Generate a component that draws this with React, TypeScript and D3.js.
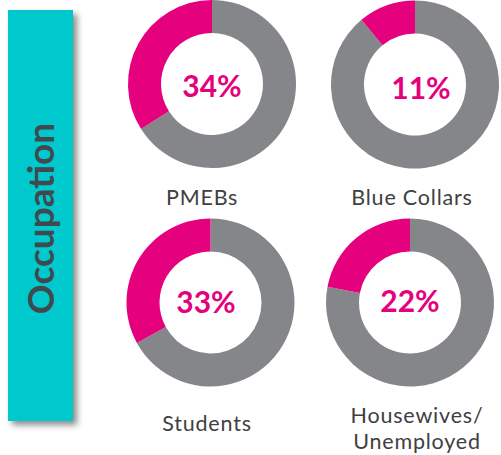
import React from "react";
import * as d3 from "d3";

const categories = ["PMEBs", "Blue Collars", "Students", "Housewives/Unemployed"];
const values = [34, 11, 33, 22];
const labelLines = [["PMEBs"], ["Blue Collars"], ["Students"], ["Housewives/", "Unemployed"]];
const sideTitle = "Occupation";

const W = 501;
const H = 455;
const PINK = "#E5007D";
const GRAY = "#85868A";
const TEAL = "#00C9CE";
const TEXT = "#404040";

// layout (positions only)
const centers = [
  { x: 212, y: 84, lx: 202, ly: 205, px: 212, py: 97 },
  { x: 415, y: 84.5, lx: 412, ly: 205, px: 421, py: 99 },
  { x: 210.5, y: 302.5, lx: 207, ly: 431, px: 206, py: 313 },
  { x: 410, y: 302.5, lx: 417, ly: 423, px: 410, py: 312 },
];
const R_OUT = 84;
const R_IN = 51;

export default function App() {
  const pie = d3
    .pie<number>()
    .sort(null)
    .value((d) => d);
  const arc = d3.arc<d3.PieArcDatum<number>>().innerRadius(R_IN).outerRadius(R_OUT);

  return (
    <svg
      width={W}
      height={H}
      style={{ position: "absolute", left: 0, top: 0, background: "#fff" }}
      fontFamily="Lato, 'Open Sans', sans-serif"
    >
      <defs>
        <filter id="shadow" x="-20%" y="-5%" width="150%" height="115%">
          <feDropShadow dx="4" dy="4" stdDeviation="3" floodColor="#000" floodOpacity="0.45" />
        </filter>
      </defs>
      <rect x={8} y={10} width={65} height={411} fill={TEAL} filter="url(#shadow)" />
      <text
        transform={`translate(54,${(122 + 315) / 2}) rotate(-90)`}
        textAnchor="middle"
        fontWeight="bold"
        fontSize={37}
        fill="#404a4e"
      >
        {sideTitle}
      </text>
      {categories.map((cat, i) => {
        const c = centers[i];
        const v = values[i];
        const arcs = pie([100 - v, v]);
        return (
          <g key={cat}>
            <g transform={`translate(${c.x},${c.y})`}>
              {arcs.map((a, j) => (
                <path key={j} d={arc(a) || ""} fill={j === 0 ? GRAY : PINK} />
              ))}
            </g>
            <text x={c.px} y={c.py} textAnchor="middle" fontWeight="bold" fontSize={30} fill={PINK}>
              {`${v}%`}
            </text>
            {labelLines[i].map((ln, k) => (
              <text
                key={k}
                x={c.lx}
                y={c.ly + k * 26}
                textAnchor="middle"
                fontSize={21.5}
                letterSpacing={0.8}
                fill={TEXT}
              >
                {ln}
              </text>
            ))}
          </g>
        );
      })}
    </svg>
  );
}
